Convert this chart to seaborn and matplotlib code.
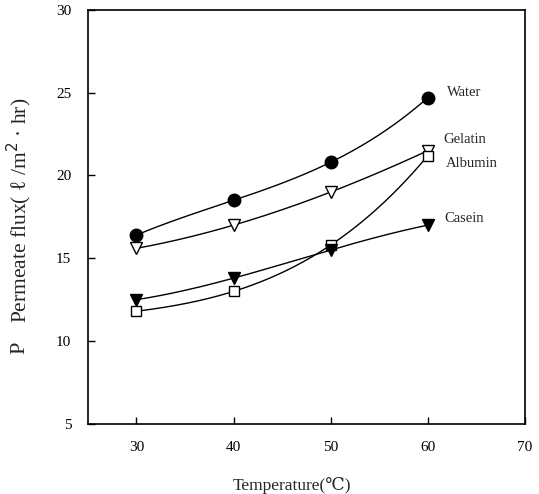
import numpy as np
import pandas as pd
import matplotlib
matplotlib.use("Agg")
import matplotlib.pyplot as plt
import seaborn as sns

temperature = [30, 40, 50, 60]
water = [16.4, 18.5, 20.8, 24.7]
gelatin = [15.6, 17.0, 19.0, 21.5]
albumin = [11.8, 13.0, 15.8, 21.2]
casein = [12.5, 13.8, 15.5, 17.0]
series_names = ["Water", "Gelatin", "Albumin", "Casein"]
x_ticks = [30, 40, 50, 60, 70]
y_ticks = [5, 10, 15, 20, 25, 30]

sns.set_theme(style="ticks")
plt.rcParams['font.family'] = ['Liberation Serif', 'DejaVu Serif', 'DejaVu Sans']

fig = plt.figure(figsize=(5.39, 4.94), dpi=100)
ax = fig.add_axes([0.163, 0.142, 0.811, 0.838])

series = dict(zip(series_names, [water, gelatin, albumin, casein]))
markers = {"Water": ("o", "black"), "Gelatin": ("v", "white"),
           "Albumin": ("s", "white"), "Casein": ("v", "black")}
sizes = {"Water": 9, "Gelatin": 8, "Albumin": 7, "Casein": 8}

xs = np.linspace(30, 60, 200)
for name, vals in series.items():
    coef = np.polyfit(temperature, vals, 3)
    curve = pd.DataFrame({"x": xs, "y": np.polyval(coef, xs)})
    sns.lineplot(data=curve, x="x", y="y", ax=ax, color="black", lw=1.0)
    pts = pd.DataFrame({"x": temperature, "y": vals})
    m, fc = markers[name]
    ax.plot(pts["x"], pts["y"], ls="none", marker=m, ms=sizes[name],
            mfc=fc, mec="black", mew=1.0, zorder=3)

ax.set_xlim(25, 70)
ax.set_ylim(5, 30)
ax.set_xticks(x_ticks)
ax.set_yticks(y_ticks)
ax.tick_params(direction="in", length=5, width=1, labelsize=11, colors="black", pad=12)
for s in ax.spines.values():
    s.set_linewidth(1.2)
    s.set_color("black")

ax.set_xlabel("")
ax.set_ylabel("")
fig.text(0.542, 0.018, "Temperature(℃)", ha="center", va="center", fontsize=12.5)
fig.text(0.036, 0.296, "P", rotation=90, ha="center", va="center", fontsize=16)
fig.text(0.036, 0.575, "Permeate flux( ℓ /m$^{2}$ · hr)", rotation=90,
         ha="center", va="center", fontsize=15.5)

label_pos = {"Water": (62.0, 25.0), "Gelatin": (61.6, 22.2),
             "Albumin": (61.9, 20.7), "Casein": (61.7, 17.4)}
for name, (lx, ly) in label_pos.items():
    ax.text(lx, ly, name, fontsize=10.5, ha="left", va="center")

fig.savefig("out.png", dpi=100)
